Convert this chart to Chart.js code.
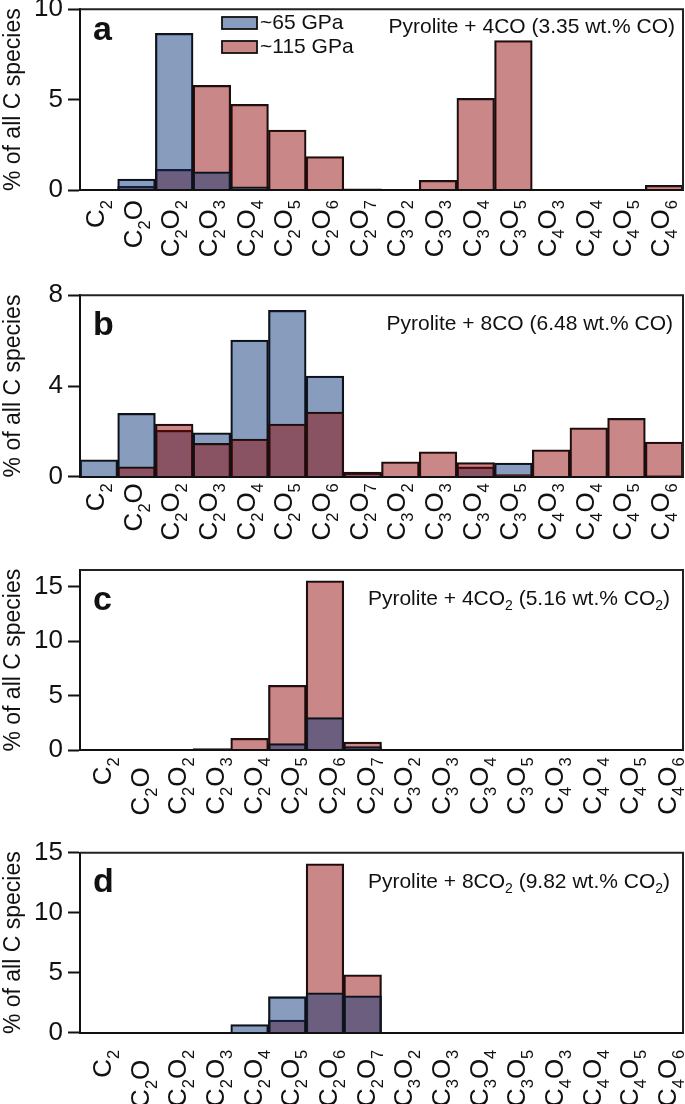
<!DOCTYPE html>
<html><head><meta charset="utf-8">
<script src="https://cdn.jsdelivr.net/npm/chart.js@4.4.1/dist/chart.umd.min.js"></script>
<style>
html,body{margin:0;padding:0;background:#fff;}
#wrap{position:relative;width:685px;height:1104px;overflow:hidden;background:#fff;}
canvas{position:absolute;left:0;}
</style></head><body>
<div id="wrap">
<canvas id="pa" width="685" height="276" style="top:0px"></canvas>
<canvas id="pb" width="685" height="276" style="top:276px"></canvas>
<canvas id="pc" width="685" height="276" style="top:552px"></canvas>
<canvas id="pd" width="685" height="276" style="top:828px"></canvas>
</div>
<script>
// ---------- data ----------
const categories = ['C₂','C₂O','C₂O₂','C₂O₃','C₂O₄','C₂O₅','C₂O₆','C₂O₇','C₃O₂','C₃O₃','C₃O₄','C₃O₅','C₄O₃','C₄O₄','C₄O₅','C₄O₆'];
const seriesNames = ['~65 GPa', '~115 GPa'];
const a65  = [0, 0.61, 8.67, 1.01, 0.17, 0, 0, 0, 0, 0, 0, 0, 0, 0, 0, 0];
const a115 = [0, 0.20, 1.14, 5.79, 4.74, 3.32, 1.85, 0.06, 0, 0.54, 5.07, 8.27, 0, 0, 0, 0.26];
const b65  = [0.74, 2.79, 2.04, 1.93, 6.03, 7.34, 4.44, 0.15, 0, 0, 0.43, 0.60, 0, 0, 0, 0.05];
const b115 = [0, 0.44, 2.32, 1.47, 1.66, 2.32, 2.85, 0.20, 0.66, 1.10, 0.62, 0.09, 1.19, 2.16, 2.57, 1.53];
const c65  = [0, 0, 0, 0.05, 0.05, 0.61, 2.99, 0.34, 0, 0, 0, 0, 0, 0, 0, 0];
const c115 = [0, 0, 0, 0.15, 1.10, 5.95, 15.52, 0.76, 0, 0, 0, 0, 0, 0, 0, 0];
const d65  = [0, 0, 0, 0, 0.67, 3.00, 3.33, 3.08, 0, 0, 0, 0, 0, 0, 0, 0];
const d115 = [0, 0, 0, 0, 0, 1.06, 14.08, 4.83, 0, 0, 0, 0, 0, 0, 0, 0];
const yTicksA = [0, 5, 10];
const yTicksB = [0, 4, 8];
const yTicksC = [0, 5, 10, 15];
const yTicksD = [0, 5, 10, 15];
const yMaxes = [10, 8, 16.5, 15];
const panelLetters = ['a', 'b', 'c', 'd'];
const panelTitles = ['Pyrolite + 4CO (3.35 wt.% CO)', 'Pyrolite + 8CO (6.48 wt.% CO)',
                     'Pyrolite + 4CO₂ (5.16 wt.% CO₂)', 'Pyrolite + 8CO₂ (9.82 wt.% CO₂)'];
const yTitle = '% of all C species';

// ---------- style ----------
const FONT = "'Liberation Sans', Arial, Helvetica, sans-serif";
const INK = '#111';
const BLUE = 'rgba(2,47,115,0.47)';
const RED = 'rgba(140,0,0,0.47)';

function parseRuns(text) {
  const runs = [];
  for (const ch of text) {
    const code = ch.charCodeAt(0);
    const sub = code >= 0x2080 && code <= 0x2089;
    const t = sub ? String.fromCharCode(48 + code - 0x2080) : ch;
    if (runs.length && runs[runs.length - 1].sub === sub) runs[runs.length - 1].t += t;
    else runs.push({t, sub});
  }
  return runs;
}
function drawRich(ctx, text, x, y, o) {
  const runs = parseRuns(text);
  const mainF = (o.bold ? 'bold ' : '') + o.size + 'px ' + FONT;
  const subF = o.subSize + 'px ' + FONT;
  let W = 0;
  ctx.save();
  runs.forEach(r => { ctx.font = r.sub ? subF : mainF; r.w = ctx.measureText(r.t).width; W += r.w; });
  ctx.translate(x, y);
  if (o.rotate) ctx.rotate(-Math.PI / 2);
  ctx.fillStyle = INK;
  ctx.textBaseline = 'alphabetic';
  ctx.textAlign = 'left';
  let cx = o.align === 'right' ? -W : (o.align === 'center' ? -W / 2 : 0);
  runs.forEach(r => {
    ctx.font = r.sub ? subF : mainF;
    ctx.fillText(r.t, cx, r.sub ? o.subShift : 0);
    cx += r.w;
  });
  ctx.restore();
}

const decorPlugin = {
  id: 'decor',
  afterDraw(chart, args, opts) {
    const {ctx, chartArea: ca} = chart;
    const xs = chart.scales.x;
    // frame: top and right
    ctx.save();
    ctx.strokeStyle = '#222';
    ctx.lineWidth = 2;
    ctx.beginPath();
    ctx.moveTo(ca.left, ca.top);
    ctx.lineTo(ca.right, ca.top);
    ctx.lineTo(ca.right, ca.bottom);
    ctx.stroke();
    ctx.restore();
    // category labels
    chart.data.labels.forEach((lab, i) => {
      const px = xs.getPixelForValue(i) + opts.labelDx;
      const extra = (opts.labelExtra && opts.labelExtra[i]) || 0;
      drawRich(ctx, lab, px + 5, ca.bottom + opts.labelGap + extra,
        {size: 26, subSize: 16.5, subShift: 8, rotate: true, align: 'right'});
    });
    // panel letter
    ctx.save();
    ctx.fillStyle = INK;
    ctx.font = 'bold 34px ' + FONT;
    ctx.textBaseline = 'alphabetic';
    ctx.textAlign = 'left';
    ctx.fillText(opts.letter, 93, opts.letterY);
    ctx.restore();
    // annotation
    drawRich(ctx, opts.title, opts.titleRight, opts.titleY, {size: 21, subSize: 14, subShift: 5, align: 'right'});
    // legend
    if (opts.legend) {
      chart.data.datasets.forEach((ds, i) => {
        const y0 = 17 + i * 24;
        ctx.save();
        ctx.fillStyle = ds.backgroundColor;
        ctx.fillRect(222, y0, 35, 12);
        ctx.strokeStyle = INK;
        ctx.lineWidth = 1.8;
        ctx.strokeRect(222, y0, 35, 12);
        ctx.fillStyle = INK;
        ctx.font = '21px ' + FONT;
        ctx.textBaseline = 'middle';
        ctx.textAlign = 'left';
        ctx.fillText(ds.label, 260, y0 + 6.5);
        ctx.restore();
      });
    }
  }
};

function makePanel(id, v65, v115, yTicks, yMax, p) {
  const ds65 = {label: seriesNames[0], data: v65, backgroundColor: BLUE, borderColor: INK, borderWidth: 1.6, order: p.blueOrder};
  const ds115 = {label: seriesNames[1], data: v115, backgroundColor: RED, borderColor: INK, borderWidth: 1.6, order: p.redOrder};
  new Chart(document.getElementById(id), {
    type: 'bar',
    data: {labels: categories, datasets: [ds65, ds115]},
    options: {
      responsive: false,
      animation: false,
      devicePixelRatio: 1,
      layout: {padding: {top: p.top, right: 2, left: 0, bottom: 0}},
      datasets: {bar: {grouped: false, categoryPercentage: 1, barPercentage: 1}},
      plugins: {
        legend: {display: false},
        tooltip: {enabled: false},
        decor: p.decor
      },
      scales: {
        x: {
          grid: {display: false},
          border: {display: true, color: INK, width: 2, z: 1},
          ticks: {display: false},
          afterFit(s) { s.height = p.xh; s.paddingLeft = 0; s.paddingRight = 0; }
        },
        y: {
          min: 0, max: yMax,
          afterBuildTicks(s) { s.ticks = yTicks.map(v => ({value: v})); },
          grid: {display: true, drawOnChartArea: false, drawTicks: true, tickLength: 12, tickColor: INK, tickWidth: 2},
          border: {display: true, color: INK, width: 2, z: 1},
          ticks: {font: {size: 26, family: FONT}, color: INK, padding: 5},
          title: {display: true, text: yTitle, font: {size: 23, family: FONT}, color: INK, padding: {top: 0, bottom: 0}},
          afterFit(s) { s.width = 80; s.paddingTop = 0; s.paddingBottom = 0; }
        }
      }
    },
    plugins: [decorPlugin]
  });
}

Chart.defaults.font.family = FONT;

makePanel('pa', a65, a115, yTicksA, yMaxes[0], {top: 9.3, xh: 86, blueOrder: 0, redOrder: 1,
  decor: {letter: panelLetters[0], letterY: 40, title: panelTitles[0], titleRight: 675, titleY: 33, labelGap: 10, labelDx: 0, legend: true}});
makePanel('pb', b65, b115, yTicksB, yMaxes[1], {top: 19.3, xh: 75.3, blueOrder: 1, redOrder: 0,
  decor: {letter: panelLetters[1], letterY: 59, title: panelTitles[1], titleRight: 673, titleY: 54, labelGap: 6.5, labelDx: 0, legend: false}});
makePanel('pc', c65, c115, yTicksC, yMaxes[2], {top: 18, xh: 77.7, blueOrder: 0, redOrder: 1,
  decor: {letter: panelLetters[2], letterY: 58, title: panelTitles[2], titleRight: 670, titleY: 53, labelGap: 7, labelDx: 7, labelExtra: {1: 10}, legend: false}});
makePanel('pd', d65, d115, yTicksD, yMaxes[3], {top: 24.7, xh: 71.3, blueOrder: 0, redOrder: 1,
  decor: {letter: panelLetters[3], letterY: 64, title: panelTitles[3], titleRight: 670, titleY: 60, labelGap: 17, labelDx: 7, labelExtra: {1: 10}, legend: false}});
</script>
</body></html>
